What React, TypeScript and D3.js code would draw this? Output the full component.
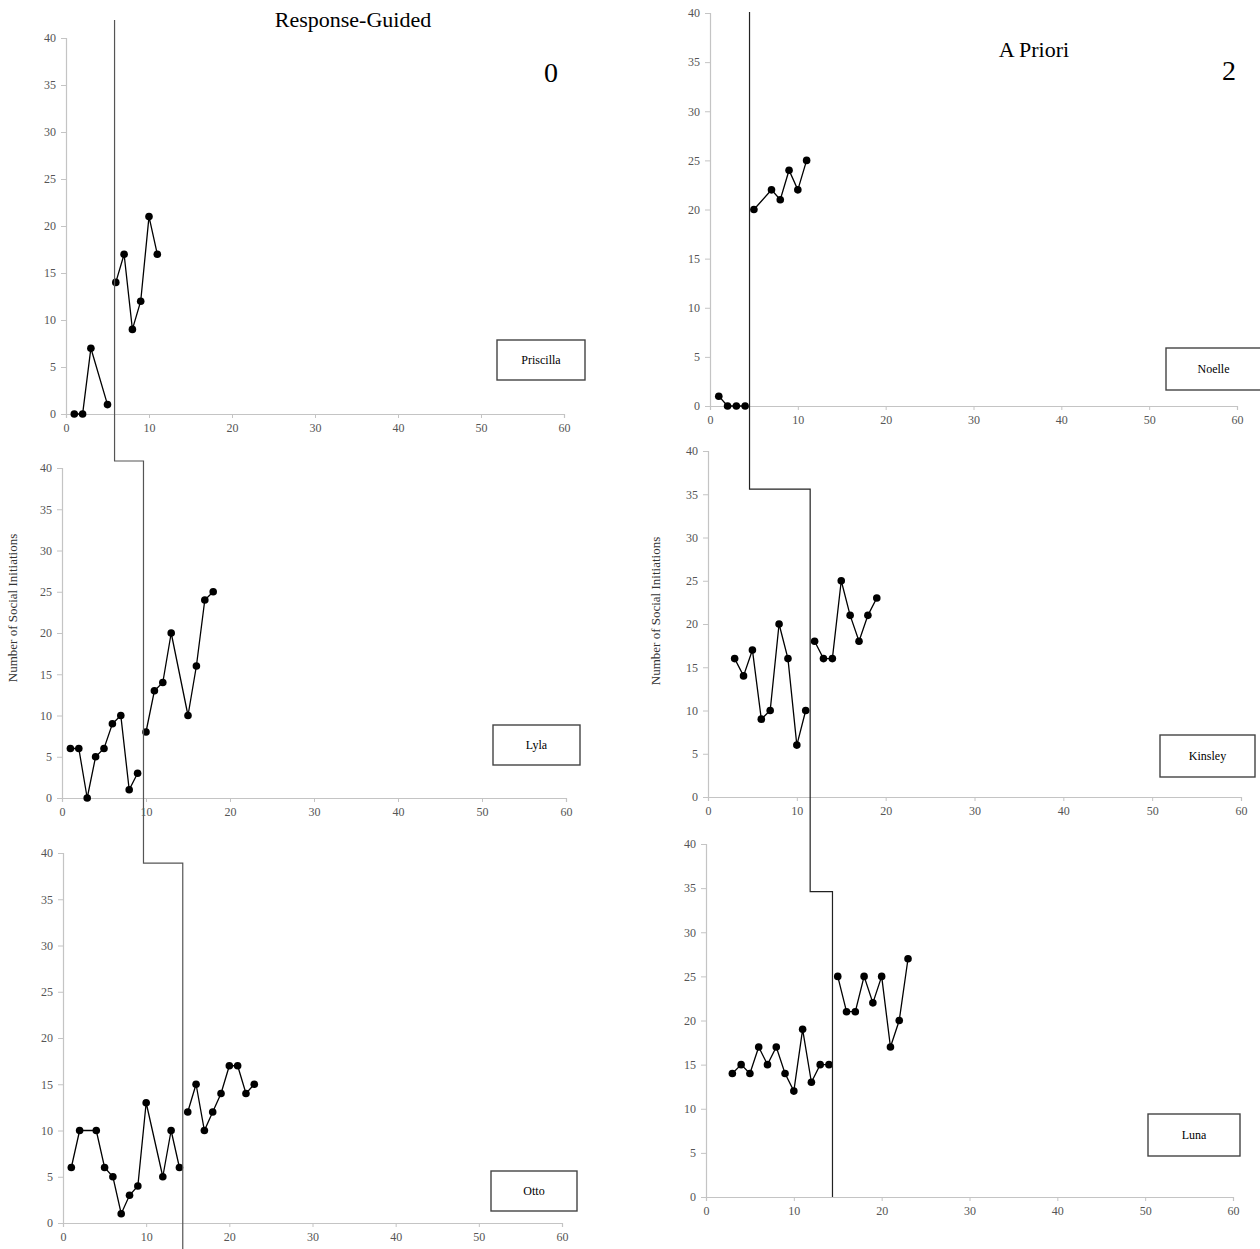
import React, { useEffect, useRef } from 'react';
import * as d3 from 'd3';

// Sessions and number of social initiations, per participant (baseline / intervention)
const priscillaBaseX = [1, 2, 3, 5];
const priscillaBaseY = [0, 0, 7, 1];
const priscillaTreatX = [6, 7, 8, 9, 10, 11];
const priscillaTreatY = [14, 17, 9, 12, 21, 17];

const lylaBaseX = [1, 2, 3, 4, 5, 6, 7, 8, 9];
const lylaBaseY = [6, 6, 0, 5, 6, 9, 10, 1, 3];
const lylaTreatX = [10, 11, 12, 13, 15, 16, 17, 18];
const lylaTreatY = [8, 13, 14, 20, 10, 16, 24, 25];

const ottoBaseX = [1, 2, 4, 5, 6, 7, 8, 9, 10, 12, 13, 14];
const ottoBaseY = [6, 10, 10, 6, 5, 1, 3, 4, 13, 5, 10, 6];
const ottoTreatX = [15, 16, 17, 18, 19, 20, 21, 22, 23];
const ottoTreatY = [12, 15, 10, 12, 14, 17, 17, 14, 15];

const noelleBaseX = [1, 2, 3, 4];
const noelleBaseY = [1, 0, 0, 0];
const noelleTreatX = [5, 7, 8, 9, 10, 11];
const noelleTreatY = [20, 22, 21, 24, 22, 25];

const kinsleyBaseX = [3, 4, 5, 6, 7, 8, 9, 10, 11];
const kinsleyBaseY = [16, 14, 17, 9, 10, 20, 16, 6, 10];
const kinsleyTreatX = [12, 13, 14, 15, 16, 17, 18, 19];
const kinsleyTreatY = [18, 16, 16, 25, 21, 18, 21, 23];

const lunaBaseX = [3, 4, 5, 6, 7, 8, 9, 10, 11, 12, 13, 14];
const lunaBaseY = [14, 15, 14, 17, 15, 17, 14, 12, 19, 13, 15, 15];
const lunaTreatX = [15, 16, 17, 18, 19, 20, 21, 22, 23];
const lunaTreatY = [25, 21, 21, 25, 22, 25, 17, 20, 27];

const xTicks = [0, 10, 20, 30, 40, 50, 60];
const yTicks = [0, 5, 10, 15, 20, 25, 30, 35, 40];

// phase change positions (session units) and staircase step heights
const leftPhase = [5.85, 9.7, 14.4];
const leftSteps = [40.85, 38.9];
const rightPhase = [4.5, 11.5, 14.4];
const rightSteps = [35.6, 34.6];

const W = 1260;
const H = 1249;
const FONT = '"Liberation Serif", "Times New Roman", serif';

// pixel frame of each panel: x of 0 and 60, y of 40 and 0, name box
const layout = {
  Priscilla: { x0: 66, x1: 564, yTop: 38, yBot: 414, box: [497, 340, 88, 40] },
  Lyla: { x0: 62, x1: 566, yTop: 468, yBot: 798, box: [493, 725, 87, 40] },
  Otto: { x0: 63, x1: 562, yTop: 853, yBot: 1223, box: [491, 1171, 86, 40] },
  Noelle: { x0: 710, x1: 1237, yTop: 13, yBot: 406, box: [1166, 348, 95, 42] },
  Kinsley: { x0: 708, x1: 1241, yTop: 451, yBot: 797, box: [1160, 735, 95, 42] },
  Luna: { x0: 706, x1: 1233, yTop: 844, yBot: 1197, box: [1148, 1114, 92, 42] },
};

const panels = [
  { name: 'Priscilla', base: [priscillaBaseX, priscillaBaseY], treat: [priscillaTreatX, priscillaTreatY] },
  { name: 'Lyla', base: [lylaBaseX, lylaBaseY], treat: [lylaTreatX, lylaTreatY] },
  { name: 'Otto', base: [ottoBaseX, ottoBaseY], treat: [ottoTreatX, ottoTreatY] },
  { name: 'Noelle', base: [noelleBaseX, noelleBaseY], treat: [noelleTreatX, noelleTreatY] },
  { name: 'Kinsley', base: [kinsleyBaseX, kinsleyBaseY], treat: [kinsleyTreatX, kinsleyTreatY] },
  { name: 'Luna', base: [lunaBaseX, lunaBaseY], treat: [lunaTreatX, lunaTreatY] },
];

const App = () => {
  const svgRef = useRef(null);

  useEffect(() => {
    const svg = d3.select(svgRef.current);
    svg.selectAll('*').remove();

    const scales = {};

    panels.forEach(p => {
      const L = layout[p.name];
      const x = d3.scaleLinear().domain([0, 60]).range([L.x0, L.x1]);
      const y = d3.scaleLinear().domain([0, 40]).range([L.yBot, L.yTop]);
      scales[p.name] = { x, y };

      const g = svg.append('g');

      // axes
      const ax = g.append('g')
        .attr('transform', `translate(0,${L.yBot})`)
        .call(d3.axisBottom(x).tickValues(xTicks).tickSize(4).tickPadding(5));
      const ay = g.append('g')
        .attr('transform', `translate(${L.x0},0)`)
        .call(d3.axisLeft(y).tickValues(yTicks).tickSize(5).tickPadding(5));
      [ax, ay].forEach(a => {
        a.select('.domain').attr('stroke', '#c4c4c4').attr('stroke-width', 1.2);
        a.selectAll('.tick line').attr('stroke', '#c4c4c4');
        a.selectAll('.tick text')
          .attr('fill', '#555')
          .style('font-family', FONT)
          .style('font-size', '12px');
      });

      const line = d3.line().x(d => x(d[0])).y(d => y(d[1]));
      [p.base, p.treat].forEach(([xs, ys]) => {
        const pts = xs.map((v, i) => [v, ys[i]]);
        g.append('path')
          .attr('d', line(pts))
          .attr('fill', 'none')
          .attr('stroke', '#000')
          .attr('stroke-width', 1.3);
        g.selectAll(null)
          .data(pts)
          .join('circle')
          .attr('cx', d => x(d[0]))
          .attr('cy', d => y(d[1]))
          .attr('r', 3.8)
          .attr('fill', '#000');
      });

      // participant name box
      const [bx, by, bw, bh] = L.box;
      g.append('rect')
        .attr('x', bx).attr('y', by).attr('width', bw).attr('height', bh)
        .attr('fill', '#fff').attr('stroke', '#444').attr('stroke-width', 1.4);
      g.append('text')
        .attr('x', bx + bw / 2).attr('y', by + bh / 2 + 4)
        .attr('text-anchor', 'middle')
        .style('font-family', FONT).style('font-size', '12px')
        .text(p.name);
    });

    // staircase phase-change lines
    const P = scales.Priscilla, Ly = scales.Lyla, O = scales.Otto;
    const left = [
      [P.x(leftPhase[0]), 20],
      [P.x(leftPhase[0]), Ly.y(leftSteps[0])],
      [Ly.x(leftPhase[1]), Ly.y(leftSteps[0])],
      [Ly.x(leftPhase[1]), O.y(leftSteps[1])],
      [O.x(leftPhase[2]), O.y(leftSteps[1])],
      [O.x(leftPhase[2]), H],
    ];
    const N = scales.Noelle, K = scales.Kinsley, Lu = scales.Luna;
    const right = [
      [N.x(rightPhase[0]), N.y(40.1)],
      [N.x(rightPhase[0]), K.y(rightSteps[0])],
      [K.x(rightPhase[1]), K.y(rightSteps[0])],
      [K.x(rightPhase[1]), Lu.y(rightSteps[1])],
      [Lu.x(rightPhase[2]), Lu.y(rightSteps[1])],
      [Lu.x(rightPhase[2]), Lu.y(0)],
    ];
    const step = d3.line();
    svg.append('path').attr('d', step(left))
      .attr('fill', 'none').attr('stroke', '#555').attr('stroke-width', 1.2);
    svg.append('path').attr('d', step(right))
      .attr('fill', 'none').attr('stroke', '#222').attr('stroke-width', 1.2);

    // y-axis titles
    [[17, 608], [660, 611]].forEach(([tx, ty]) => {
      svg.append('text')
        .attr('transform', `translate(${tx},${ty}) rotate(-90)`)
        .attr('text-anchor', 'middle')
        .attr('fill', '#333')
        .style('font-family', FONT).style('font-size', '13px')
        .text('Number of Social Initiations');
    });

    // headings
    const heads = [
      ['Response-Guided', 353, 27, 22],
      ['0', 551, 82, 28],
      ['A Priori', 1034, 57, 22],
      ['2', 1229, 80, 28],
    ];
    heads.forEach(([t, hx, hy, fs]) => {
      svg.append('text')
        .attr('x', hx).attr('y', hy)
        .attr('text-anchor', 'middle')
        .style('font-family', FONT).style('font-size', `${fs}px`)
        .text(t);
    });
  }, []);

  return (
    <svg
      ref={svgRef}
      width={W}
      height={H}
      style={{ position: 'absolute', left: 0, top: 0, background: '#fff' }}
    />
  );
};

export default App;
